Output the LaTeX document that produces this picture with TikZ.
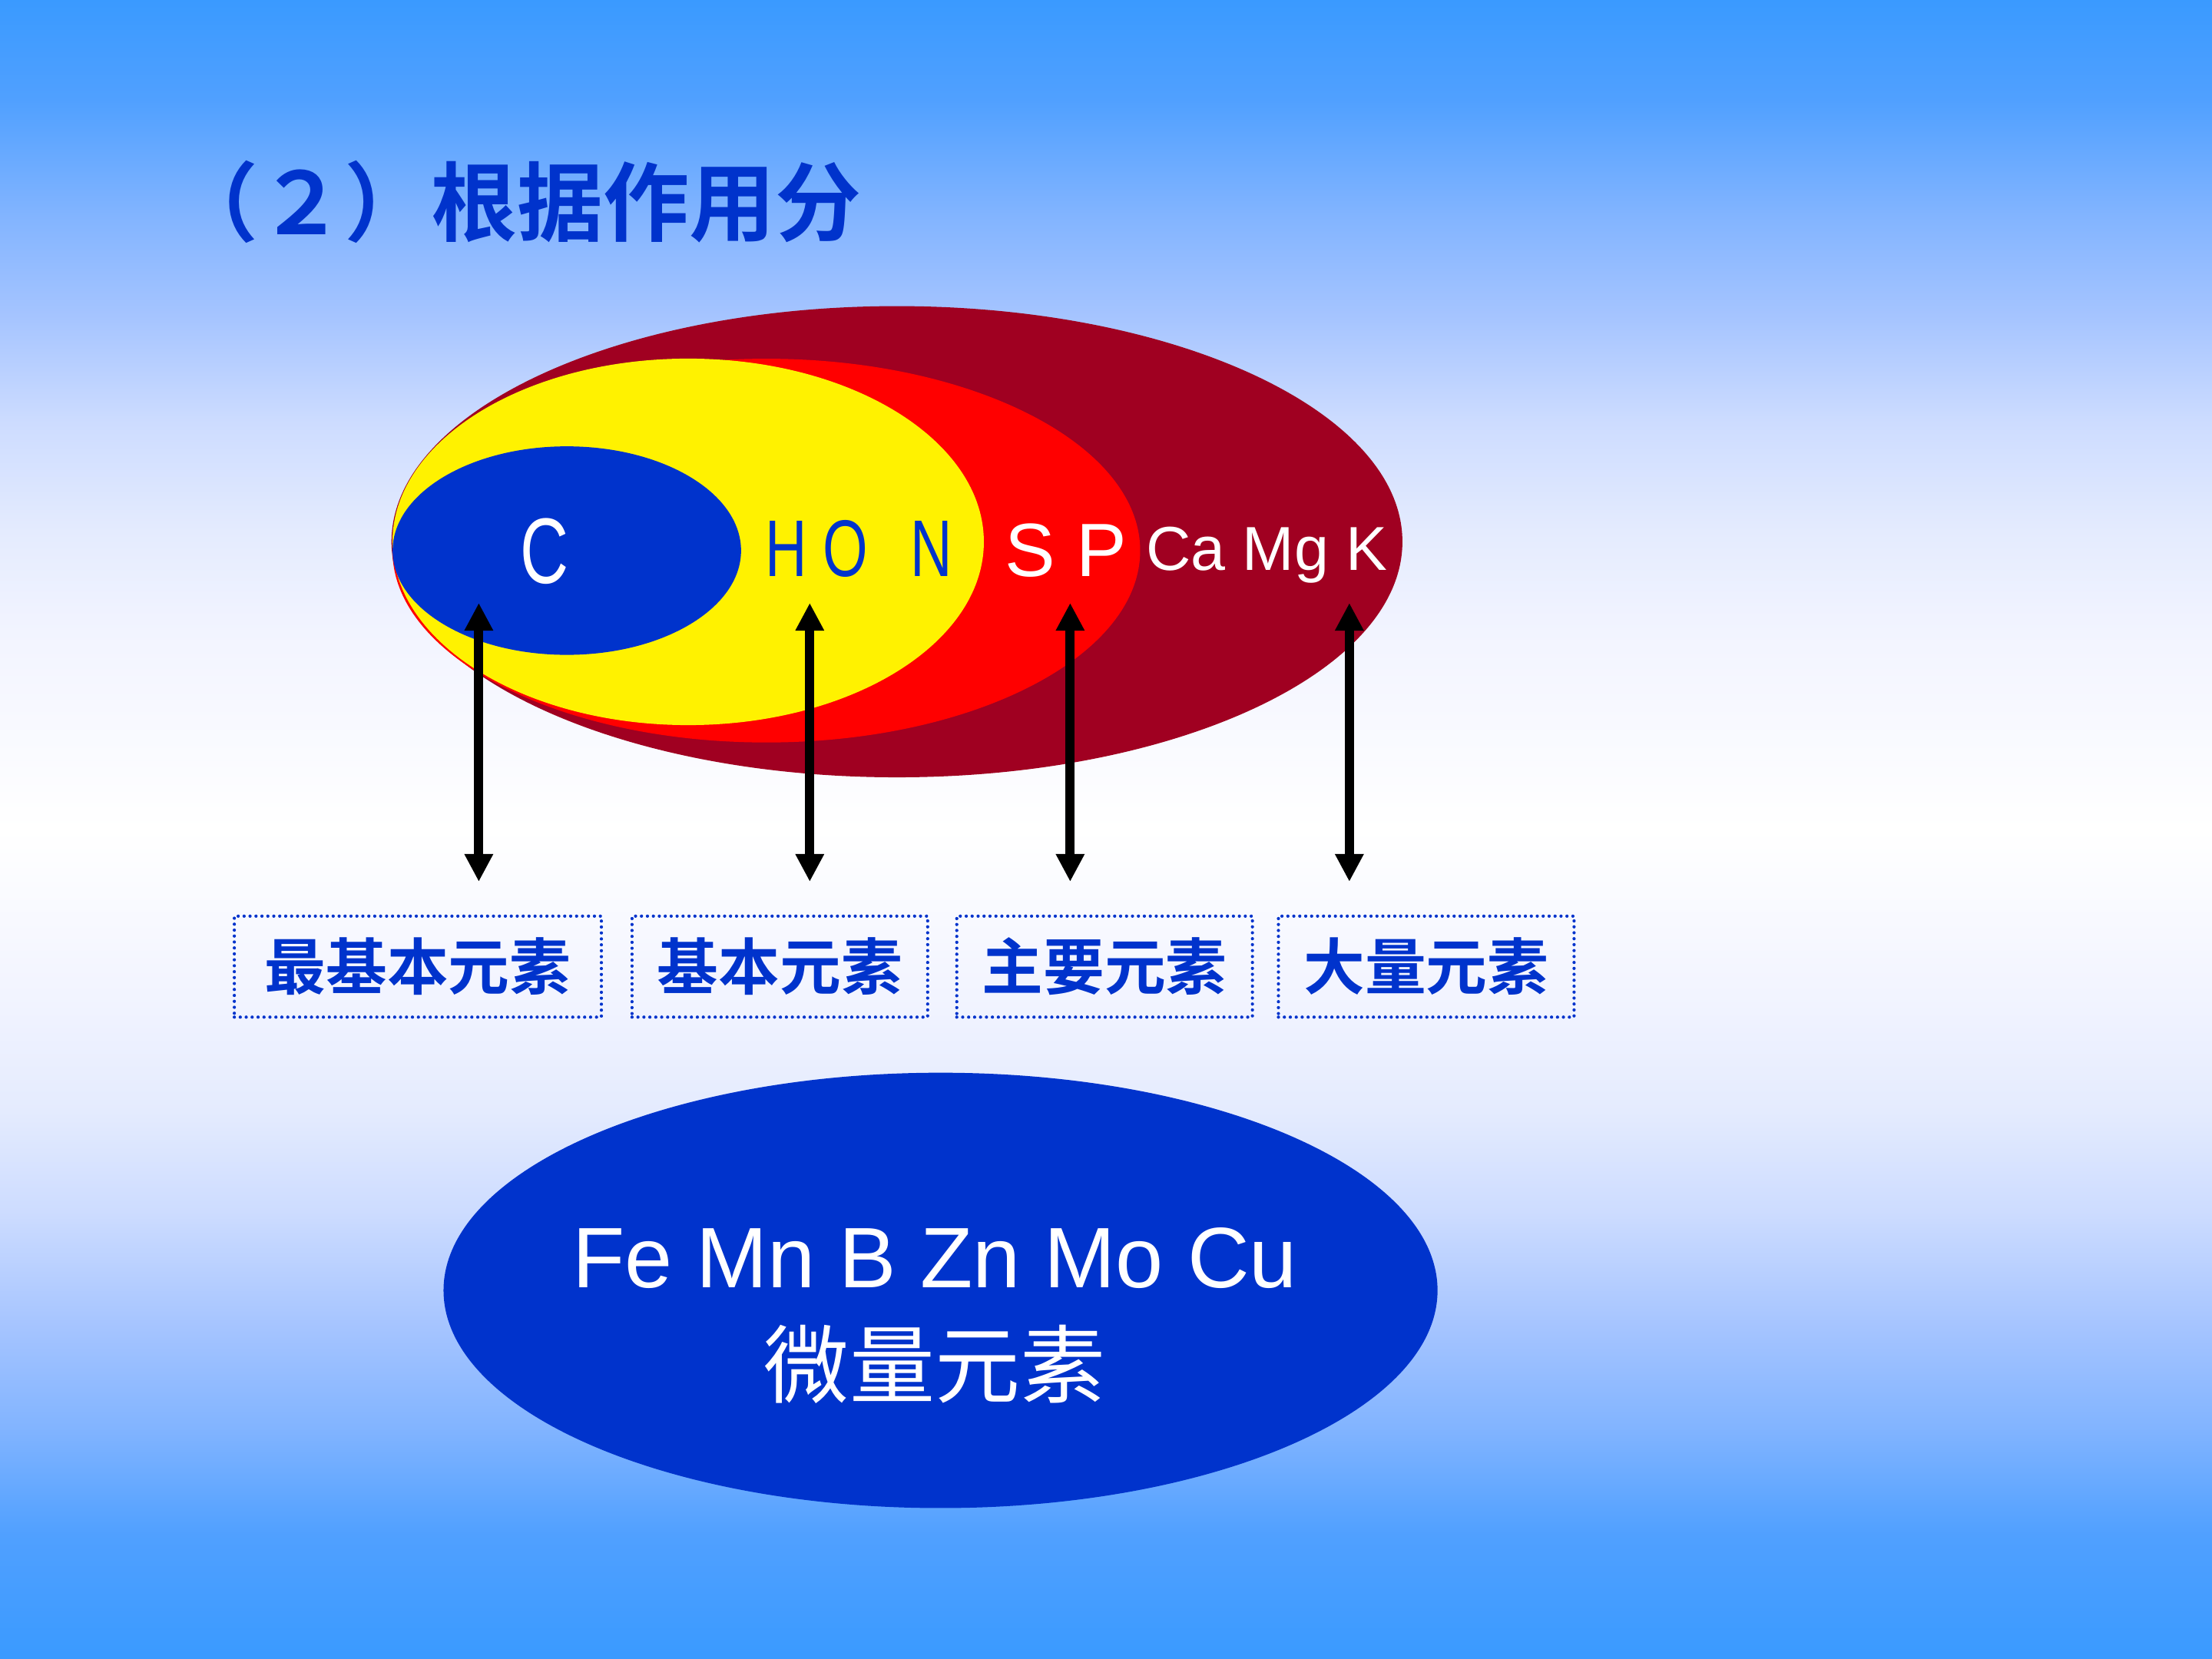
\documentclass[tikz,border=0pt]{standalone}
\usepackage{fontspec}
\setmainfont{Liberation Sans}
\newfontfamily\narrowsans{Liberation Sans}[FakeStretch=0.72]
\newfontfamily\cjk{Noto Sans CJK SC}
\newfontfamily\cjkbf{Noto Sans CJK SC Bold}
\usetikzlibrary{arrows.meta}

\definecolor{darkred}{RGB}{160,0,33}
\definecolor{inkblue}{RGB}{0,51,204}
\definecolor{bgA}{RGB}{58,154,255}
\definecolor{bgB}{RGB}{80,160,255}
\definecolor{bgC}{RGB}{130,180,255}
\definecolor{bgD}{RGB}{165,196,255}
\definecolor{bgE}{RGB}{205,220,255}
\definecolor{bgF}{RGB}{228,235,254}
\definecolor{bgG}{RGB}{242,244,255}

\pgfdeclareverticalshading{slidebg}{100bp}{color(0bp)=(bgA); color(25bp)=(bgA);
  color(28.75bp)=(bgB); color(32bp)=(bgC); color(35bp)=(bgD); color(38.5bp)=(bgE);
  color(41.5bp)=(bgF); color(45bp)=(bgG); color(50bp)=(white); color(56bp)=(bgG);
  color(59bp)=(bgF); color(62.25bp)=(bgE); color(65.5bp)=(bgD); color(68.5bp)=(bgC);
  color(72bp)=(bgB); color(75bp)=(bgA); color(100bp)=(bgA)}

\tikzset{
  elem/.style={text=white, inner sep=0pt, anchor=base},
  kind/.style={draw=inkblue, line width=1.2pt, dash pattern=on 0pt off 2.2pt,
    line cap=round, text=inkblue, minimum height=1.315cm, inner sep=0pt,
    font=\cjkbf\fontsize{22.7pt}{26pt}\selectfont},
  link/.style={<->, line width=3.4pt},
}

\begin{document}
\begin{tikzpicture}[x=0.018367cm, y=-0.018367cm, >={Triangle[length=3.6mm, width=3.5mm]}]
    \useasboundingbox (0,0) rectangle (1568,1176);
    \shade[shading=slidebg] (0,0) rectangle (1568,1176);

    \node[anchor=west, inner sep=0pt, text=inkblue,
        font=\cjkbf\fontsize{31.9pt}{34pt}\selectfont] (title) at (122,143) {（２）根据作用分};

    % nested sets of elements
    \fill[darkred] (635.8,384) ellipse [x radius=358.3, y radius=167];
    \fill[red] (543.2,390.3) ellipse [x radius=265, y radius=136];
    \fill[yellow] (487.8,384.1) ellipse [x radius=209.6, y radius=129.9];
    \fill[inkblue] (401.8,390.3) ellipse [x radius=123.5, y radius=73.9];

    \node[elem, font=\narrowsans\fontsize{34.5pt}{36pt}\selectfont] (carbon) at (386,413.3) {C};
    \node[elem, text=inkblue, font=\narrowsans\fontsize{29.8pt}{32pt}\selectfont]
        (hon) at (608.7,408.4) {H O\hspace{0.55cm}N};
    \node[elem, font=\fontsize{28pt}{30pt}\selectfont] (sp) at (755.8,408.8) {S P};
    \node[elem, font=\fontsize{23pt}{25pt}\selectfont] (camgk) at (898,404.4) {Ca Mg K};

    \coordinate (c-top) at (339.4,427.4);
    \coordinate (c-bot) at (339.4,625);
    \coordinate (hon-top) at (574,427.4);
    \coordinate (hon-bot) at (574,625);
    \coordinate (sp-top) at (758.6,427.4);
    \coordinate (sp-bot) at (758.6,625);
    \coordinate (camgk-top) at (956.5,427.4);
    \coordinate (camgk-bot) at (956.5,625);
    \draw[link] (c-top) -- (c-bot);
    \draw[link] (hon-top) -- (hon-bot);
    \draw[link] (sp-top) -- (sp-bot);
    \draw[link] (camgk-top) -- (camgk-bot);

    \node[kind, minimum width=4.78cm] (most) at (296.2,685.2) {最基本元素};
    \node[kind, minimum width=3.85cm] (basic) at (552.8,685.2) {基本元素};
    \node[kind, minimum width=3.85cm] (main) at (783,685.2) {主要元素};
    \node[kind, minimum width=3.85cm] (major) at (1011,685.2) {大量元素};

    % trace elements
    \fill[inkblue] (666.7,914.7) ellipse [x radius=352.3, y radius=154.3];
    \node[elem, font=\fontsize{31.8pt}{34pt}\selectfont] (trace) at (662.6,912.6) {Fe Mn B Zn Mo Cu};
    \node[text=white, inner sep=0pt, font=\cjk\fontsize{31.6pt}{34pt}\selectfont]
        (tracename) at (662.6,967) {微量元素};
\end{tikzpicture}
\end{document}
